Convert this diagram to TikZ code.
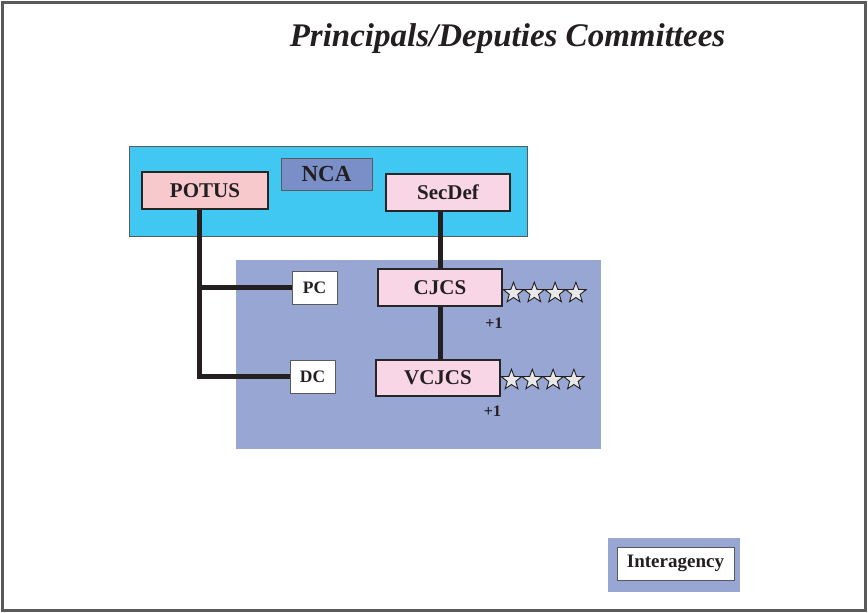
\documentclass[tikz,border=0pt]{standalone}
\usepackage{fontspec}
\setmainfont{Liberation Serif}
\usetikzlibrary{shapes.geometric}
\definecolor{ncacyan}{RGB}{64,199,242}
\definecolor{ncablue}{RGB}{122,142,200}
\definecolor{lav}{RGB}{151,166,210}
\definecolor{potuspink}{RGB}{247,200,204}
\definecolor{lightpink}{RGB}{249,214,230}
\definecolor{framegray}{RGB}{90,90,90}
\definecolor{textblack}{RGB}{35,31,32}
\tikzset{
  bigbox/.style={draw=black!85, line width=2.2pt, inner sep=0pt, font=\fontsize{21}{23}\selectfont\bfseries, text=textblack},
  smallbox/.style={draw=framegray, line width=0.8pt, fill=white, inner sep=0pt, font=\fontsize{17.5}{19}\selectfont\bfseries, text=textblack},
  panel/.style={draw=framegray, line width=0.7pt},
  link/.style={draw=textblack, line width=5pt},
  starmark/.style={star, star points=5, star point ratio=2.4, draw=textblack, line width=0.9pt, fill=black!9, minimum size=21.5pt, inner sep=0pt},
  plusone/.style={font=\fontsize{16}{18}\selectfont\bfseries, text=textblack}
}
\begin{document}
\begin{tikzpicture}[x=1pt,y=-1pt]
\useasboundingbox (0,0) rectangle (868,613);
\fill[white] (0,0) rectangle (868,613);
\draw[framegray, line width=2.5pt] (2.5,2.5) rectangle (865.5,610.5);
% title
\node[font=\fontsize{33}{37}\selectfont\bfseries\itshape, text=textblack] (title) at (507.5,39) {Principals/Deputies Committees};
% panels
\path[panel, fill=ncacyan] (129,146) rectangle (527,236);
\path[panel, draw=none, fill=lav] (236,260) rectangle (601,449);
\path[panel, draw=none, fill=lav] (608,538) rectangle (740,592);
% nodes
\node[draw=framegray, line width=0.8pt, fill=ncablue, minimum width=91pt, minimum height=32pt, inner sep=0pt, font=\fontsize{23}{25}\selectfont\bfseries, text=textblack] (nca) at (326.5,174) {NCA};
\node[bigbox, fill=potuspink, minimum width=126pt, minimum height=37pt] (potus) at (205,190.5) {POTUS};
\node[bigbox, fill=lightpink, minimum width=124pt, minimum height=37pt] (secdef) at (448,192.5) {SecDef};
\node[bigbox, fill=lightpink, minimum width=124pt, minimum height=37pt] (cjcs) at (440,287.5) {CJCS};
\node[bigbox, fill=lightpink, minimum width=124pt, minimum height=36pt] (vcjcs) at (438,378) {VCJCS};
\node[smallbox, minimum width=45pt, minimum height=33pt] (pc) at (314.5,287.5) {PC};
\node[smallbox, minimum width=45pt, minimum height=33pt] (dc) at (312.5,376.5) {DC};
\node[smallbox, minimum width=117pt, minimum height=33pt, font=\fontsize{19}{21}\selectfont\bfseries] (inter) at (675.5,563.5) {Interagency};
% connectors
\coordinate (jx) at (199,0);
\draw[link] (potus.south -| jx) -- (jx |- dc.west) -- (dc.west);
\draw[link] (jx |- pc.west) -- (pc.west);
\draw[link] (secdef.south -| cjcs.north) -- (cjcs.north);
\draw[link] (cjcs.south) -- (cjcs.south |- vcjcs.north);
% stars
\foreach \i in {0,1,2,3} {
  \node[starmark] (cs\i) at (513.5+20.8*\i,293) {};
  \node[starmark] (vs\i) at (511.5+20.8*\i,380) {};
}
\node[plusone] (p1) at (494,323) {+1};
\node[plusone] (p2) at (492.5,411) {+1};
\end{tikzpicture}
\end{document}
